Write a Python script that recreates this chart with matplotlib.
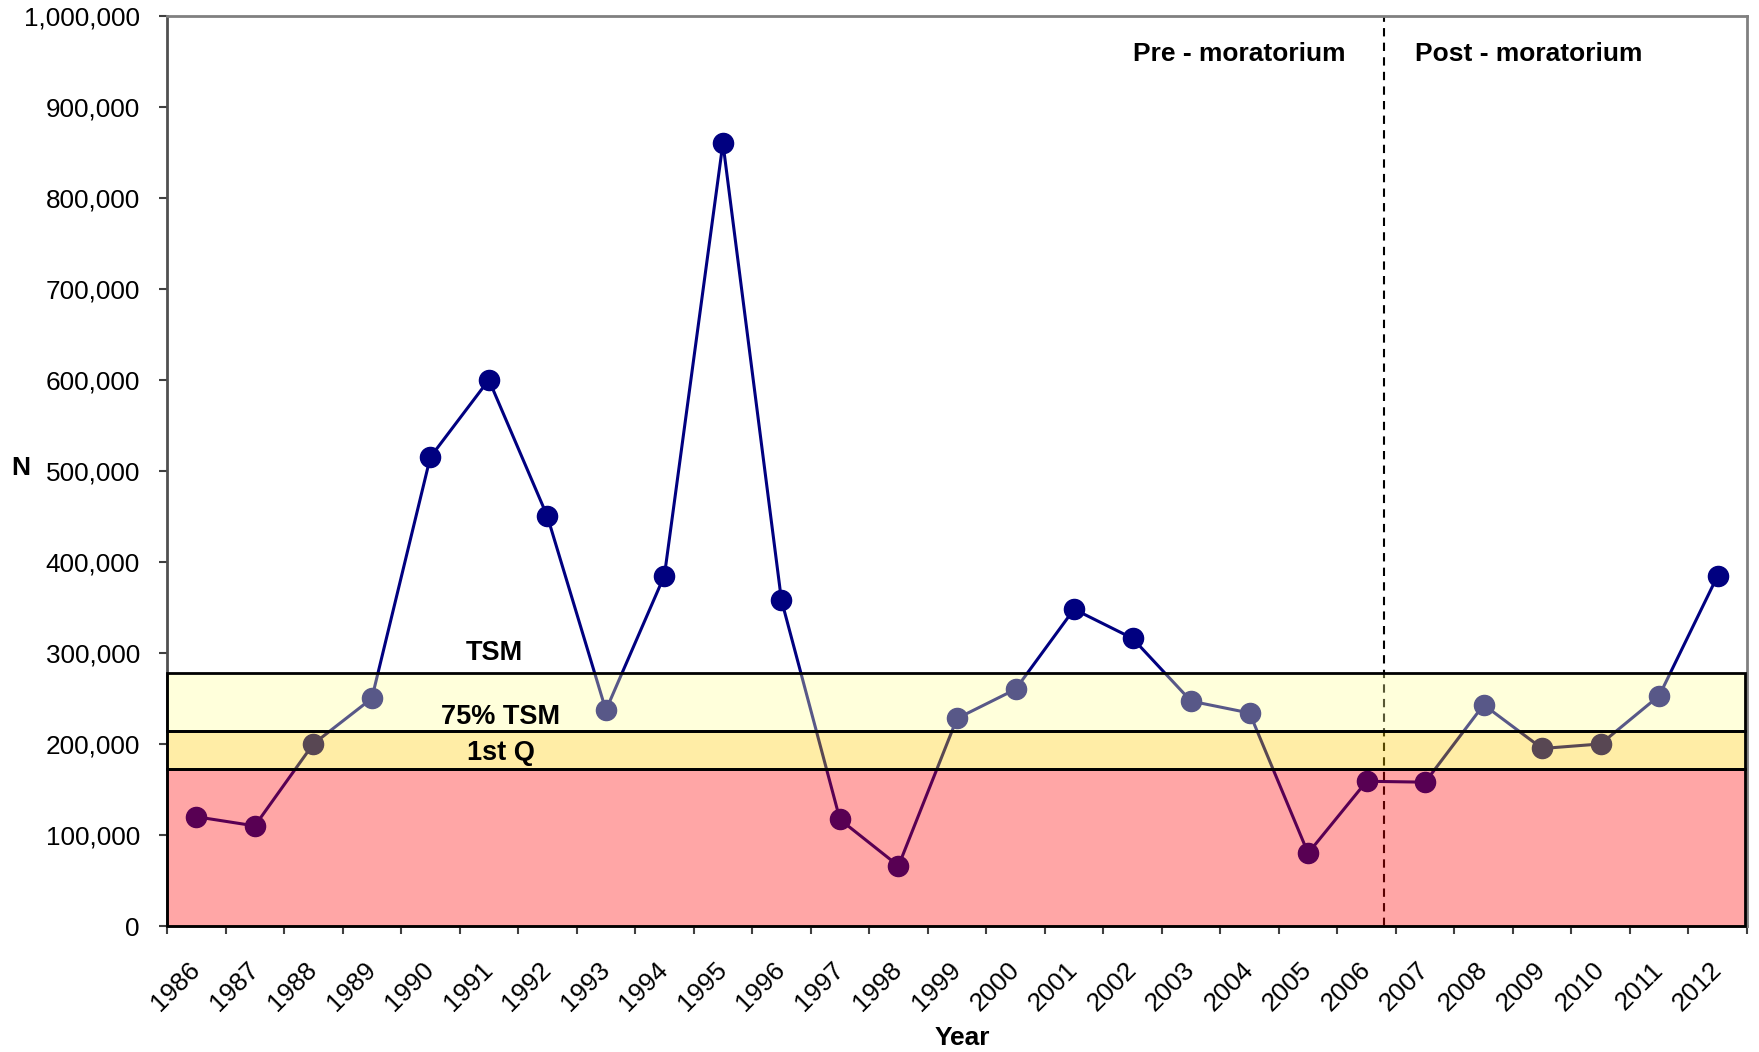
import matplotlib
matplotlib.use('Agg')
import matplotlib.pyplot as plt
from matplotlib.patches import Rectangle
from matplotlib.ticker import FuncFormatter, FixedLocator, MultipleLocator, NullFormatter

plt.rcParams['font.family'] = ['Liberation Sans', 'DejaVu Sans']

# ---- data ----
years = list(range(1986, 2013))
abundance = [120000, 110000, 200000, 250000, 515000, 600000, 450000, 237000,
             385000, 860000, 358000, 117000, 66000, 228000, 260000, 348000,
             316000, 247000, 234000, 80000, 159000, 158000, 243000, 195000,
             200000, 253000, 385000]

band_names = ['TSM', '75% TSM', '1st Q']
band_lower = [214000, 172000, 0]
band_upper = [278000, 214000, 172000]
band_colors = ['#FFFF99', '#FFCC00', '#FF0000']

moratorium_year = 2006.3
period_labels = ['Pre - moratorium', 'Post - moratorium']

# ---- figure ----
fig = plt.figure(figsize=(17.59, 10.52), dpi=100)
ax = fig.add_axes([0.09494, 0.11977, 0.89824, 0.86531])

ax.plot(years, abundance, color='#000080', lw=2.2, marker='o', ms=14.5,
        mec='#000080', mfc='#000080', zorder=2)
ax.axvline(moratorium_year, color='black', lw=1.5, ls=(0, (4, 3)), zorder=2)

x0, x1 = 1985.5, 2012.46
for lo, hi, c in zip(band_lower, band_upper, band_colors):
    ax.add_patch(Rectangle((x0, lo), x1 - x0, hi - lo, facecolor=c, alpha=0.35,
                           edgecolor='none', zorder=3))
    ax.add_patch(Rectangle((x0, lo), x1 - x0, hi - lo, fill=False,
                           edgecolor='black', lw=2, zorder=4, clip_on=False))

label_y = [300000, 230000, 190000]
label_x = [1991.1, 1991.2, 1991.2]
for name, lx, ly in zip(band_names, label_x, label_y):
    ax.text(lx, ly, name, ha='center', va='center', fontsize=19.5,
            fontweight='bold', zorder=5)

ax.text(2003.82, 958000, period_labels[0], ha='center', va='center',
        fontsize=19, fontweight='bold', zorder=5)
ax.text(2008.77, 958000, period_labels[1], ha='center', va='center',
        fontsize=19, fontweight='bold', zorder=5)

ax.set_xlim(1985.5, 2012.5)
ax.set_ylim(0, 1000000)

ax.yaxis.set_major_locator(MultipleLocator(100000))
ax.yaxis.set_major_formatter(FuncFormatter(lambda v, p: f'{v:,.0f}'))

ax.xaxis.set_major_locator(FixedLocator([y - 0.5 for y in years] + [2012.5]))
ax.xaxis.set_major_formatter(NullFormatter())
ax.xaxis.set_minor_locator(FixedLocator(years))
ax.set_xticklabels([str(y) for y in years], minor=True, rotation=45,
                   ha='right', va='center', rotation_mode='anchor')
ax.tick_params(axis='x', which='major', length=6, width=1.5, color='#404040')
ax.tick_params(axis='x', which='minor', length=0, pad=29, labelsize=18.8)
ax.tick_params(axis='y', length=6, width=1.5, color='#404040', pad=13.5,
               labelsize=18.8)

for s in ['top', 'right', 'bottom']:
    ax.spines[s].set_color('#808080')
    ax.spines[s].set_linewidth(2)
ax.spines['left'].set_color('#505050')
ax.spines['left'].set_linewidth(2)

fig.text(21 / 1759, 1 - 467.5 / 1052, 'N', ha='center', va='center',
         fontsize=19, fontweight='bold')
fig.text(962.5 / 1759, 1 - 1037.6 / 1052, 'Year', ha='center', va='center',
         fontsize=19, fontweight='bold')

fig.savefig('out.png', dpi=100)
